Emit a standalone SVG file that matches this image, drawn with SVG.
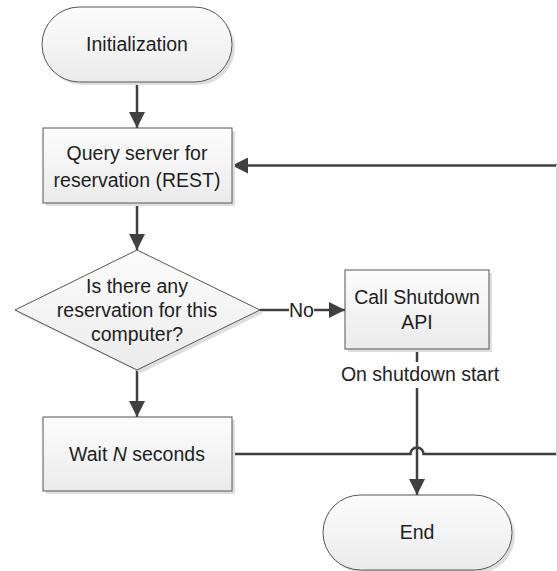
<svg xmlns="http://www.w3.org/2000/svg" width="557" height="571" viewBox="0 0 557 571">
  <defs>
    <linearGradient id="shapeFill" x1="0" y1="0" x2="0" y2="1">
      <stop offset="0" stop-color="#fcfcfc"/>
      <stop offset="1" stop-color="#ebebeb"/>
    </linearGradient>
    <marker id="arrow" viewBox="0 0 16 16" refX="16" refY="8" markerWidth="16" markerHeight="16" markerUnits="userSpaceOnUse" orient="auto">
      <path d="M0,0 L16,8 L0,16 Z" fill="#404040"/>
    </marker>
    <style>
      .shape { fill: url(#shapeFill); stroke: #555555; stroke-width: 1; }
      .shadow { fill: #dedede; stroke: none; }
      .conn { fill: none; stroke: #404040; stroke-width: 2.5; }
      .label { font-family: "Liberation Sans", Arial, sans-serif; font-size: 19.5px; fill: #1e1e1e; text-anchor: middle; }
    </style>
  </defs>

  <rect width="557" height="571" fill="#ffffff"/>

  <!-- connectors -->
  <g id="connectors">
    <line class="conn" x1="137" y1="82" x2="137" y2="128" marker-end="url(#arrow)"/>
    <line class="conn" x1="137" y1="203" x2="137" y2="250" marker-end="url(#arrow)"/>
    <line class="conn" x1="137" y1="369" x2="137" y2="417" marker-end="url(#arrow)"/>
    <!-- decision "No" branch -->
    <line class="conn" x1="260" y1="310" x2="289" y2="310"/>
    <line class="conn" x1="314" y1="310" x2="345" y2="310" marker-end="url(#arrow)"/>
    <text class="label" x="301.5" y="316.5">No</text>
    <!-- loop back from wait to query; the vertical run sits on the page edge -->
    <path class="conn" d="M232,454 H410.5 A6.5,6.5 0 0 1 423.5,454 H558.8 V165.5 H232" marker-end="url(#arrow)"/>
    <line x1="556.5" y1="165" x2="556.5" y2="455" stroke="#d4d4d4" stroke-width="1"/>
    <!-- shutdown to end -->
    <line class="conn" x1="417" y1="349" x2="417" y2="495" marker-end="url(#arrow)"/>
    <rect x="336" y="362" width="169" height="26" fill="#ffffff"/>
    <text class="label" x="420" y="381">On shutdown start</text>
  </g>

  <g id="init">
    <rect class="shadow" x="45" y="10" width="190" height="75" rx="37.5"/>
    <rect class="shape" x="42" y="7" width="190" height="75" rx="37.5"/>
    <text class="label" x="137" y="51">Initialization</text>
  </g>

  <g id="query">
    <rect class="shadow" x="46" y="131" width="189" height="75"/>
    <rect class="shape" x="43" y="128" width="189" height="75"/>
    <text class="label" x="137" y="160">Query server for</text>
    <text class="label" x="137" y="187">reservation (REST)</text>
  </g>

  <g id="decision">
    <polygon class="shadow" points="141,253 263,313 141,373 18,313"/>
    <polygon class="shape" points="137,250 260,310 137,370 15,310"/>
    <text class="label" x="137" y="293">Is there any</text>
    <text class="label" x="137" y="317">reservation for this</text>
    <text class="label" x="137" y="341">computer?</text>
  </g>

  <g id="shutdown">
    <rect class="shadow" x="348" y="273" width="144" height="79"/>
    <rect class="shape" x="345" y="270" width="144" height="79"/>
    <text class="label" x="417" y="304">Call Shutdown</text>
    <text class="label" x="417" y="329">API</text>
  </g>

  <g id="wait">
    <rect class="shadow" x="46" y="420" width="189" height="74"/>
    <rect class="shape" x="43" y="417" width="189" height="74"/>
    <text class="label" x="137" y="461">Wait <tspan font-style="italic">N</tspan> seconds</text>
  </g>

  <g id="end">
    <rect class="shadow" x="326" y="498" width="189" height="75" rx="37.5"/>
    <rect class="shape" x="323" y="495" width="189" height="75" rx="37.5"/>
    <text class="label" x="417" y="539">End</text>
  </g>
</svg>
